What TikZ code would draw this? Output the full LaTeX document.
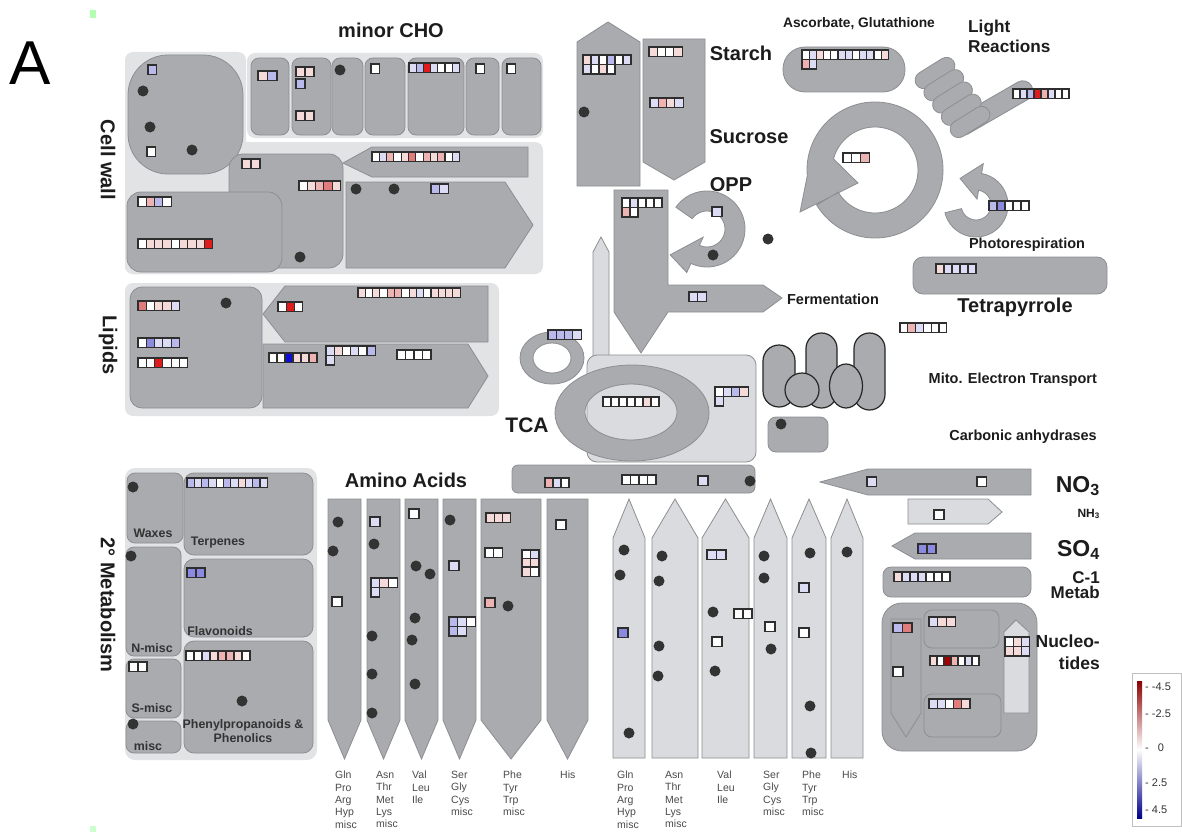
\documentclass[tikz,border=0pt]{standalone}
\usepackage{fontspec}
\setmainfont{Liberation Sans}
\usetikzlibrary{calc}

\definecolor{panelgray}{HTML}{E1E3E5}
\definecolor{shapefill}{HTML}{A9ABAE}
\definecolor{shapeline}{HTML}{8C8E91}
\definecolor{lightfill}{HTML}{D9DBDE}
\definecolor{dotgray}{HTML}{333333}
\definecolor{cellline}{HTML}{2E2E2E}
\definecolor{labelblack}{HTML}{1C1C1C}
\definecolor{labelgray}{HTML}{333333}
\definecolor{aagray}{HTML}{4A4A4A}
\colorlet{c0}{white}
\definecolor{r1}{HTML}{F5DADA}
\definecolor{r2}{HTML}{EDB3B3}
\definecolor{r3}{HTML}{E07C7C}
\definecolor{r4}{HTML}{E01B1B}
\definecolor{rd}{HTML}{A80000}
\definecolor{b1}{HTML}{DCDCF4}
\definecolor{b2}{HTML}{B9B9EC}
\definecolor{b3}{HTML}{8A8AE0}
\definecolor{b4}{HTML}{0F0FD2}
\definecolor{legtop}{HTML}{8B0000}
\definecolor{legbot}{HTML}{00008B}

% row of expression cells: [width]{x}{y}{colours}
\newcommand{\cellrow}[4][8.3]{%
  \foreach \cc [count=\ci from 0] in {#4}
    \draw[cellbox, fill=\cc] ({#2+\ci*#1},#3) rectangle ++(#1,9.5);
}
% curved arrow: centre, inner r, outer r, start, end, barb out, barb in, tip angle, tip r
\newcommand{\bentarrow}[9]{%
  \draw[darkshape] ($#1+({#4}:{#3})$) arc[start angle={#4}, end angle={#5}, radius={#3}]
    -- ($#1+({#5}:{#6})$) -- ($#1+({#8}:{#9})$) -- ($#1+({#5}:{#7})$)
    -- ($#1+({#5}:{#2})$) arc[start angle={#5}, end angle={#4}, radius={#2}] -- cycle;
}

\begin{document}
\begin{tikzpicture}[x=1pt, y=-1pt,
    panel/.style={fill=panelgray},
    darkshape/.style={fill=shapefill, draw=shapeline, line width=0.8pt},
    lightshape/.style={fill=lightfill, draw=shapeline, line width=0.8pt},
    mito/.style={fill=shapefill, draw=black!85, line width=1.2pt},
    blob/.style={fill=dotgray},
    cellbox/.style={draw=cellline, line width=1.1pt},
    title/.style={font=\bfseries\fontsize{20}{22}\selectfont, text=labelblack, inner sep=0pt},
    sublabel/.style={font=\bfseries\fontsize{14.5}{16}\selectfont, text=labelblack, inner sep=0pt},
    boxlabel/.style={font=\bfseries\fontsize{12.4}{14}\selectfont, text=labelgray, inner sep=0pt},
    aalabel/.style={font=\fontsize{10.5}{12.3}\selectfont, text=aagray, align=left, anchor=north west, inner sep=0pt}
]
\useasboundingbox (0,0) rectangle (1182,832);
\fill[white] (0,0) rectangle (1182,832);
\fill[green!30!white] (90,10) rectangle (96,18);
\fill[green!20!white] (90,826) rectangle (96,832);

% Cell wall / minor CHO
\fill[panel, rounded corners=8pt] (125,52) rectangle (246,274);
\fill[panel, rounded corners=8pt] (125,142) rectangle (543,274);
\fill[panel, rounded corners=8pt] (247,53) rectangle (543,138);
\draw[darkshape, rounded corners=40pt] (128,55) rectangle (243,174);
\foreach \xa/\xb in {251/289, 292/331, 332/363, 365/405, 408/464, 466/499, 502/541}
  \draw[darkshape, rounded corners=8pt] (\xa,58) rectangle (\xb,135);
\draw[darkshape, rounded corners=14pt] (229,154) rectangle (343,268);
\draw[darkshape, rounded corners=14pt] (127,192) rectangle (282,272);
\draw[darkshape] (528,147) -- (372,147) -- (343,163) -- (372,177) -- (528,177) -- cycle;
\draw[darkshape] (346,182) -- (505,182) -- (533,225) -- (505,268) -- (346,268) -- cycle;
\cellrow{148}{65}{b2}
\cellrow[9.5]{258}{71}{r1,b2}
\cellrow[9]{296}{67}{r1,r1}
\cellrow[9]{296}{79}{b2}
\cellrow[9]{296}{111}{r1,r1}
\cellrow{371}{64}{c0}
\cellrow[7.2]{409}{63}{b1,b2,r4,b1,c0,c0,b1}
\cellrow{476}{64}{c0}
\cellrow{507}{64}{c0}
\cellrow{147}{147}{c0}
\cellrow[9]{242}{159}{r1,r1}
\cellrow{299}{181}{c0,r1,r2,r3,r1}
\cellrow{138}{197}{c0,r2,b2,c0}
\cellrow{138}{239}{c0,r1,r1,r1,c0,r1,r1,r1,r4}
\cellrow[7.3]{372}{152}{c0,b1,r2,c0,r1,r3,c0,r2,r1,r2,c0,b1}
\cellrow[8.7]{431}{184}{b2,b1}
\foreach \p in {(143,91), (150,127), (192,150), (340,70), (300,257), (356,189), (394,189)}
  \fill[blob] \p circle (5.5);

% Lipids
\fill[panel, rounded corners=8pt] (125,283) rectangle (499,416);
\draw[darkshape, rounded corners=12pt] (130,287) rectangle (262,408);
\draw[darkshape] (488,286) -- (285,286) -- (263,314) -- (285,342) -- (488,342) -- cycle;
\draw[darkshape] (263,344) -- (468,344) -- (488,376) -- (468,408) -- (263,408) -- cycle;
\cellrow{138}{301}{r3,c0,r1,r1,b1}
\cellrow{138}{338}{c0,b3,b1,b1,b2}
\cellrow{138}{358}{c0,c0,r4,c0,c0,c0}
\cellrow{278}{302}{c0,r4,c0}
\cellrow[7.3]{358}{288}{r1,c0,r1,c0,r2,r2,c0,r1,b1,c0,r1,r1,r1,r1}
\cellrow[8]{269}{353}{c0,c0,b4,r1,r1,r2}
\cellrow[8.2]{326}{346}{b1,r1,c0,b1,c0,b2}
\cellrow[8.2]{326}{355.5}{b1}
\cellrow[8.5]{397}{350}{c0,c0,c0,c0}
\fill[blob] (226,303) circle (5.5);

% 2nd metabolism
\fill[panel, rounded corners=10pt] (125,468) rectangle (317,760);
\draw[darkshape, rounded corners=8pt] (127,473) rectangle (183,543);
\draw[darkshape, rounded corners=8pt] (126,547) rectangle (181,656);
\draw[darkshape, rounded corners=8pt] (126,659) rectangle (181,718);
\draw[darkshape, rounded corners=8pt] (126,721) rectangle (181,753);
\draw[darkshape, rounded corners=10pt] (184,473) rectangle (313,555);
\draw[darkshape, rounded corners=10pt] (184,559) rectangle (313,637);
\draw[darkshape, rounded corners=10pt] (184,641) rectangle (313,753);
\cellrow[7.3]{187}{478}{b2,b1,b2,b1,c0,b2,b1,r1,b1,b2,b1}
\cellrow[9]{187}{568}{b3,b3}
\cellrow[9]{129}{662}{c0,c0}
\cellrow[8]{186}{651}{c0,c0,b1,r1,r2,r2,r1,c0}
\foreach \p in {(133,487), (131,556), (133,724), (242,701)}
  \fill[blob] \p circle (5.5);

% Amino acids
\foreach \xa/\xb in {328/361, 367/400, 405/438, 443/476, 481/541, 547/588}
  \draw[darkshape] (\xa,499) -- (\xb,499) -- (\xb,720) -- ({(\xa+\xb)/2},759) -- (\xa,720) -- cycle;
\foreach \xa/\xb in {613/645, 652/698, 702/749, 754/787, 792/826, 831/863}
  \draw[lightshape] (\xa,758) -- (\xa,538) -- ({(\xa+\xb)/2},499) -- (\xb,538) -- (\xb,758) -- cycle;
\cellrow[10]{332}{597}{c0}
\cellrow[10]{370}{517}{b1}
\cellrow[8.7]{371}{578}{b1,r1,c0}
\cellrow[8.7]{371}{587.5}{b1}
\cellrow[10]{409}{509}{c0}
\cellrow[10]{449}{561}{b1}
\cellrow[8.7]{449}{617}{b2,b1,c0}
\cellrow[8.7]{449}{626.5}{b2,b1}
\cellrow[8.3]{486}{513}{r1,r1,r1}
\cellrow[8.7]{485}{548}{c0,c0}
\cellrow[8.5]{522}{550}{c0,b1}
\cellrow[8.5]{522}{558.5}{r1,r1}
\cellrow[8.5]{522}{567}{r1,c0}
\cellrow[10]{485}{598}{r2}
\cellrow[10]{556}{520}{c0}
\cellrow[10]{618}{628}{b3}
\cellrow[9.5]{707}{550}{b1,b1}
\cellrow[10]{712}{637}{c0}
\cellrow[9]{734}{609}{c0,c0}
\cellrow[10]{765}{622}{c0}
\cellrow[10]{799}{583}{b1}
\cellrow[10]{799}{628}{c0}
\foreach \p in {(338,522), (333,551), (374,544), (372,636), (372,674), (372,713), (416,566), (430,574),
    (415,618), (412,640), (415,684), (450,520), (508,606),
    (624,550), (620,575), (629,733), (662,556), (659,581), (659,646), (658,676), (713,612), (715,671),
    (764,556), (764,578), (771,649), (810,553), (810,706), (811,753), (847,552)}
  \fill[blob] \p circle (5.5);
\foreach \x/\t [count=\i] in {335/{Gln\\Pro\\Arg\\Hyp\\misc}, 376/{Asn\\Thr\\Met\\Lys\\misc}, 412/{Val\\Leu\\Ile},
    451/{Ser\\Gly\\Cys\\misc}, 503/{Phe\\Tyr\\Trp\\misc}, 560/{His},
    617/{Gln\\Pro\\Arg\\Hyp\\misc}, 665/{Asn\\Thr\\Met\\Lys\\misc}, 717/{Val\\Leu\\Ile},
    763/{Ser\\Gly\\Cys\\misc}, 802/{Phe\\Tyr\\Trp\\misc}, 842/{His}}
  \node[aalabel] (aa\i) at (\x,771) {\t};

% Starch, sucrose, OPP, TCA
\draw[darkshape] (577,186) -- (577,42) -- (608,22) -- (640,42) -- (640,186) -- cycle;
\draw[darkshape] (643,39) -- (705,39) -- (705,162) -- (674,180) -- (643,162) -- cycle;
\cellrow[8]{583}{55}{r1,b1,c0,b2,c0,b1}
\cellrow[8]{583}{64.5}{b1,c0,r1,c0}
\cellrow{649}{47}{r1,c0,c0,r1}
\cellrow{650}{98}{b1,r2,r1,b1}
\fill[blob] (584,112) circle (5.5);
\draw[lightshape] (593,360) -- (593,252) -- (601,237) -- (609,252) -- (609,360) -- cycle;
\draw[darkshape] (614,190) -- (668,190) -- (668,285) -- (763,285) -- (782,298) -- (763,312)
  -- (668,312) -- (641,353) -- (614,312) -- cycle;
\cellrow[8]{622}{198}{c0,b1,c0,c0,c0}
\cellrow[8]{622}{207.5}{r2,c0}
\cellrow[8.7]{689}{292}{b1,b1}
\bentarrow{(707,229)}{18}{38}{215}{475}{48}{9}{505}{45}
\cellrow[10]{712}{207}{b1}
\fill[blob] (713,255) circle (5.5);
\fill[blob] (768,239) circle (5.5);
\draw[darkshape, even odd rule] (552,358) ellipse [x radius=32, y radius=26]
  (552,358) ellipse [x radius=19, y radius=15];
\cellrow[8.3]{548}{330}{b2,b2,b2,b1}
\draw[lightshape, rounded corners=10pt] (587,355) rectangle (756,462);
\draw[darkshape, even odd rule] (632,413) ellipse [x radius=77, y radius=48]
  (631,412) ellipse [x radius=46, y radius=28];
\cellrow[8]{603}{397}{c0,c0,c0,c0,c0,r1,c0}
\cellrow[8.3]{715}{387}{c0,b1,b2,r1}
\cellrow[8.3]{715}{396.5}{b1}
\draw[darkshape, rounded corners=6pt] (512,465) rectangle (755,493);
\cellrow[8]{545}{478}{r2,b1,c0}
\cellrow[8.5]{622}{475}{c0,c0,c0,c0}
\cellrow[10]{698}{476}{b1}
\fill[blob] (750,481) circle (5.5);

% Mito. electron transport, carbonic anhydrases
\draw[mito, rounded corners=16pt] (763,345) rectangle (795,407);
\draw[mito, rounded corners=15.5pt] (806,333) rectangle (837,408);
\draw[mito, rounded corners=15.5pt] (854,333) rectangle (885,410);
\draw[mito] (802,390) circle (17);
\draw[mito] (846,386) ellipse [x radius=16.5, y radius=22];
\draw[darkshape, rounded corners=8pt] (768,417) rectangle (828,452);
\fill[blob] (781,424) circle (5.5);

% Ascorbate, light reactions, Calvin cycle, photorespiration, tetrapyrrole
\draw[darkshape, rounded corners=22pt] (783,47) rectangle (905,92);
\cellrow[7.2]{802}{50}{c0,b1,r1,c0,c0,b1,b1,c0,b1,b1,c0,r1}
\cellrow[7.2]{802}{59.5}{r2,b1}
\draw[darkshape, rounded corners=10pt, rotate around={30:(993,108)}] (948.5,98) rectangle (1037.5,118);
\foreach \cx/\cy in {935/73, 943.75/85.25, 952.5/97.5, 961.25/109.75, 970/122}
  \draw[darkshape, rounded corners=8.5pt, rotate around={32:(\cx,\cy)}] (\cx-22,\cy-8.5) rectangle (\cx+22,\cy+8.5);
\cellrow[7]{1013}{89}{c0,b1,b2,r4,r2,b1,c0,c0}
\draw[darkshape] ($(875,170)+(509:68)$) arc[start angle=509, end angle=175, radius=68]
  -- (800,212) -- (858,183) -- ($(875,170)+(195:43)$) arc[start angle=195, end angle=509, radius=43] -- cycle;
\cellrow[8.7]{843}{153}{c0,c0,r2}
\bentarrow{(976,205)}{15}{32}{166}{-80}{42}{6}{-121}{31}
\cellrow[8]{989}{201}{b2,b3,c0,c0,c0}
\draw[darkshape, rounded corners=10pt] (913,257) rectangle (1107,294);
\cellrow[8]{936}{264}{r1,b1,b1,b1,b1}
\cellrow[7.8]{900}{323}{c0,r2,b1,c0,c0,c0}

% N, S, C-1, nucleotides
\draw[darkshape] (1031,469) -- (868,469) -- (820,482) -- (868,495) -- (1031,495) -- cycle;
\cellrow[9.5]{867}{477}{b1}
\cellrow[9.5]{977}{477}{c0}
\draw[lightshape] (908,499) -- (988,499) -- (1002,512) -- (988,524) -- (908,524) -- cycle;
\cellrow[10]{934}{510}{c0}
\draw[darkshape] (1031,533) -- (915,533) -- (892,546) -- (915,559) -- (1031,559) -- cycle;
\cellrow[9]{918}{544}{b3,b3}
\draw[darkshape, rounded corners=8pt] (883,567) rectangle (1031,597);
\cellrow[8]{894}{572}{r1,b1,b1,b1,c0,c0,c0}
\draw[darkshape, rounded corners=20pt] (882,603) rectangle (1037,751);
\draw[darkshape] (891,619) -- (921,619) -- (921,713) -- (906,737) -- (891,713) -- cycle;
\draw[darkshape, rounded corners=8pt] (924,610) rectangle (999,648);
\draw[darkshape, rounded corners=8pt] (924,694) rectangle (1001,737);
\draw[lightshape] (1004,713) -- (1004,632) -- (1016,620) -- (1029,632) -- (1029,713) -- cycle;
\cellrow[9.5]{893}{623}{b2,r3}
\cellrow[10]{893}{667}{c0}
\cellrow[8.7]{929}{617}{b1,r1,r1}
\cellrow[7]{930}{656}{r1,c0,rd,r2,c0,b1,c0}
\cellrow[8.2]{929}{699}{b1,b1,c0,r3,r1}
\cellrow[8.3]{1005}{637}{c0,r1,b1}
\cellrow[8.3]{1005}{646.5}{r1,r1,b1}

% Legend
\draw[black!25, line width=0.6pt] (1132,673) rectangle (1181,826);
\shade[top color=legtop, bottom color=legbot, middle color=white] (1137,681) rectangle (1142,818);
\foreach \yy/\v [count=\i] in {687/-4.5, 714/-2.5, 748/0, 783/2.5, 810/4.5}
  \node[anchor=west, inner sep=0pt, text=labelgray, font=\fontsize{11}{12}\selectfont] (leg\i) at (1145,\yy) {-\ifnum\i=3 \hspace{6pt}\fi\ \v};

% Labels
\node[font=\fontsize{62}{64}\selectfont, inner sep=0pt] (panelA) at (30,63) {A};
\node[title] (minorcho) at (391,30) {minor CHO};
\node[title, rotate=-90] (cellwall) at (108,160) {Cell wall};
\node[title, rotate=-90] (lipids) at (108,345) {Lipids};
\node[title, rotate=-90] (secmet) at (108,605) {2° Metabolism};
\node[title] (amino) at (406,480) {Amino Acids};
\node[title] (starch) at (741,53) {Starch};
\node[title] (sucrose) at (749,137) {Sucrose};
\node[title] (opp) at (731,185) {OPP};
\node[title, font=\bfseries\fontsize{21}{22}\selectfont] (tca) at (527,425) {TCA};
\node[title] (tetra) at (1015,307) {Tetrapyrrole};
\node[sublabel, font=\bfseries\fontsize{13.8}{15}\selectfont] (asc) at (859,24) {Ascorbate, Glutathione};
\node[sublabel, font=\bfseries\fontsize{17.2}{20}\selectfont, anchor=north west, align=left] (light) at (968,20) {Light\\Reactions};
\node[sublabel] (photo) at (1027,245) {Photorespiration};
\node[sublabel] (ferm) at (833,299) {Fermentation};
\node[sublabel, anchor=east] (mito) at (1097,380) {Mito. Electron Transport};
\node[sublabel, anchor=east] (carb) at (1097,437) {Carbonic anhydrases};
\node[title, font=\bfseries\fontsize{23}{24}\selectfont, anchor=east] (no3) at (1100,486) {NO\textsubscript{3}};
\node[sublabel, font=\bfseries\fontsize{12}{13}\selectfont, anchor=east] (nh3) at (1100,514) {NH\textsubscript{3}};
\node[title, font=\bfseries\fontsize{23}{24}\selectfont, anchor=east] (so4) at (1100,550) {SO\textsubscript{4}};
\node[sublabel, font=\bfseries\fontsize{17}{15.5}\selectfont, anchor=east, align=right] (c1) at (1100,585) {C-1\\Metab};
\node[sublabel, font=\bfseries\fontsize{17.5}{22}\selectfont, anchor=east, align=right] (nucl) at (1100,652) {Nucleo-\\tides};
\node[boxlabel] (waxes) at (153,533) {Waxes};
\node[boxlabel] (terp) at (218,543) {Terpenes};
\node[boxlabel] (nmisc) at (152,648) {N-misc};
\node[boxlabel] (flav) at (220,631) {Flavonoids};
\node[boxlabel] (smisc) at (152,708) {S-misc};
\node[boxlabel] (misc) at (148,746) {misc};
\node[boxlabel, align=center] (phenyl) at (243,731) {Phenylpropanoids \&\\Phenolics};
\end{tikzpicture}
\end{document}
